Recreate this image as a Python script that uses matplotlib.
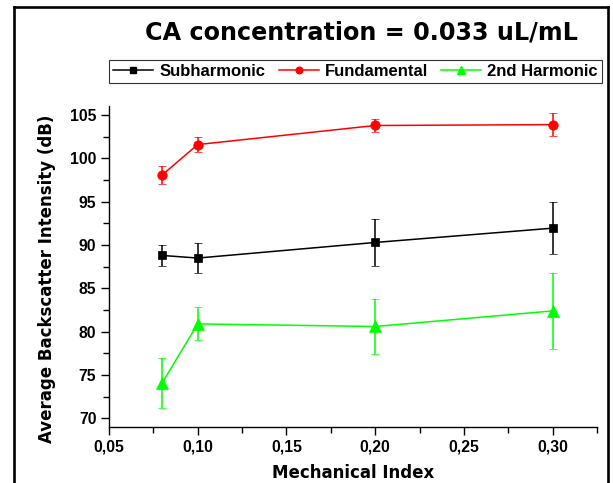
import matplotlib
matplotlib.use("Agg")
import matplotlib.pyplot as plt
from matplotlib.lines import Line2D
from matplotlib.ticker import MultipleLocator, FuncFormatter

plt.rcParams['font.family'] = ['Liberation Sans', 'DejaVu Sans']
plt.rcParams['font.weight'] = 'bold'

mi = [0.08, 0.10, 0.20, 0.30]
sub_vals = [88.8, 88.5, 90.3, 91.95]
sub_err = [1.25, 1.7, 2.67, 3.0]
fund_vals = [98.1, 101.6, 103.8, 103.9]
fund_err = [1.05, 0.9, 0.77, 1.35]
harm_vals = [74.1, 80.9, 80.6, 82.4]
harm_err = [2.9, 1.9, 3.2, 4.4]
labels = ["Subharmonic", "Fundamental", "2nd Harmonic"]

W, H = 613, 483
fig = plt.figure(figsize=(W / 100, H / 100), dpi=100)
ax = fig.add_axes([109 / W, 1 - 427 / H, (597 - 109) / W, (427 - 106) / H])

series = [
    (sub_vals, sub_err, 'black', 's', 6.2),
    (fund_vals, fund_err, '#FF0000', 'o', 6.8),
    (harm_vals, harm_err, '#00FF00', '^', 8.5),
]
handles = []
for (vals, err, col, mk, ms), lab in zip(series, labels):
    ax.errorbar(mi, vals, yerr=err, color=col, marker=mk, markersize=ms,
                lw=1.1, elinewidth=1.1, capsize=2.8, capthick=1.1,
                markeredgewidth=0.5, markeredgecolor=col)
    handles.append(Line2D([], [], color=col, marker=mk, lw=1.1,
                          markersize=ms * 0.7, markeredgecolor=col, label=lab))

ax.set_xlim(0.05, 0.325)
ax.set_ylim(69.0, 106.05)
ax.xaxis.set_major_locator(MultipleLocator(0.05))
ax.xaxis.set_minor_locator(MultipleLocator(0.025))
ax.yaxis.set_major_locator(MultipleLocator(5))
ax.yaxis.set_minor_locator(MultipleLocator(2.5))
ax.xaxis.set_major_formatter(FuncFormatter(lambda v, p: f"{v:.2f}".replace('.', ',')))
ax.yaxis.set_major_formatter(FuncFormatter(lambda v, p: f"{v:.0f}"))

for s in ['top', 'right']:
    ax.spines[s].set_visible(False)
for s in ['left', 'bottom']:
    ax.spines[s].set_linewidth(1.0)
ax.tick_params(which='major', direction='out', length=6, width=1.0, labelsize=11.3, pad=3)
ax.tick_params(which='minor', direction='out', length=4, width=1.0)
for t in ax.get_xticklabels() + ax.get_yticklabels():
    t.set_fontweight('bold')

wide = ['DejaVu Sans']
fig.text(47 / W, 1 - 279 / H, "Average Backscatter Intensity (dB)", rotation=90,
         ha='center', va='center', fontsize=12, fontweight='bold', family=wide)
fig.text(353 / W, 1 - 482 / H, "Mechanical Index", ha='center', va='bottom',
         fontsize=12, fontweight='bold', family=wide)
fig.text(361.5 / W, 1 - 33 / H, "CA concentration = 0.033 uL/mL", ha='center',
         va='center', fontsize=17.2, fontweight='bold', family=wide)

leg = fig.legend(handles=handles, loc='center', bbox_to_anchor=(355.5 / W, 1 - 71.2 / H),
                 ncol=3, frameon=True, fancybox=False, edgecolor='black',
                 prop={'weight': 'bold', 'size': 12.0}, handlelength=2.4,
                 handletextpad=0.35, columnspacing=0.8, borderpad=0.25,
                 borderaxespad=0)
leg.get_frame().set_linewidth(0.8)

# outer frame
lw = 1.9
fig.add_artist(Line2D([14 / W, 14 / W], [-0.1, 1 - 7 / H], transform=fig.transFigure,
                      color='black', lw=lw, solid_capstyle='projecting'))
fig.add_artist(Line2D([607.5 / W, 607.5 / W], [-0.1, 1 - 7 / H], transform=fig.transFigure,
                      color='black', lw=lw, solid_capstyle='projecting'))
fig.add_artist(Line2D([14 / W, 607.5 / W], [1 - 7 / H, 1 - 7 / H], transform=fig.transFigure,
                      color='black', lw=lw, solid_capstyle='projecting'))

fig.savefig("out.png", dpi=100)
